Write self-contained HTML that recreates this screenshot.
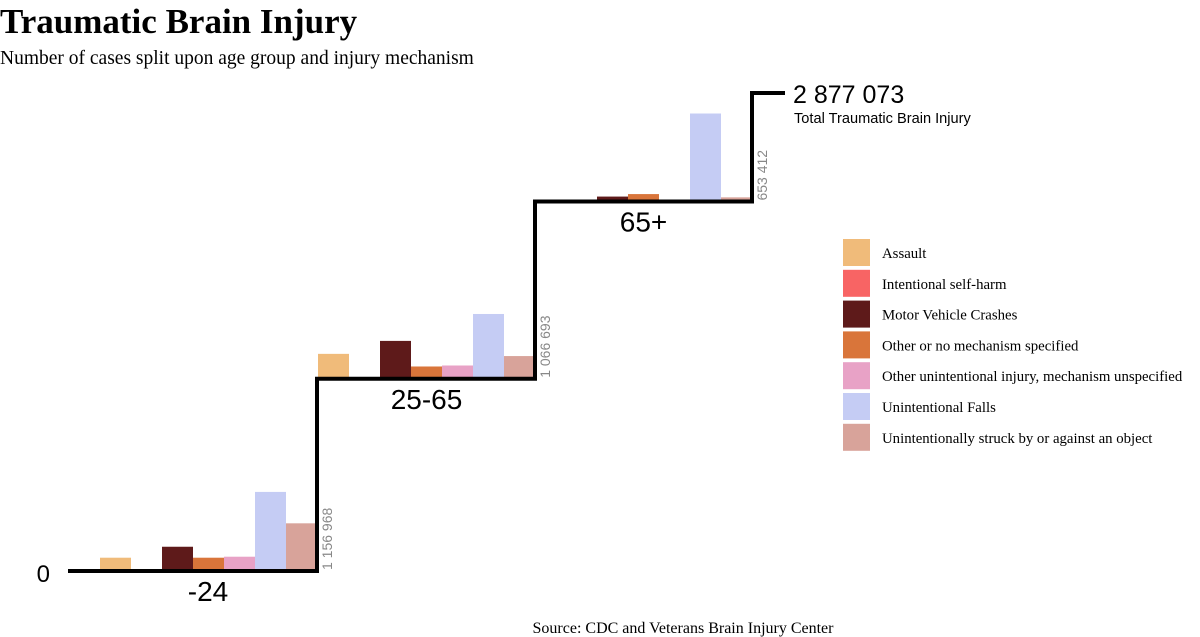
<!DOCTYPE html>
<html><head><meta charset="utf-8"><style>
body{margin:0;background:#fff;width:1200px;height:637px;overflow:hidden}
svg{display:block}
.serif{font-family:"Liberation Serif",serif}
.sans{font-family:"Liberation Sans",sans-serif}
</style></head><body>
<svg id="chart" width="1200" height="637">
<text x="0" y="33" class="serif" font-size="35" font-weight="bold">Traumatic Brain Injury</text>
<text x="0" y="64" class="serif" font-size="19.5">Number of cases split upon age group and injury mechanism</text>
<text x="683" y="633" text-anchor="middle" class="serif" font-size="16">Source: CDC and Veterans Brain Injury Center</text>
<text x="50" y="582" text-anchor="end" class="sans" font-size="24">0</text>
<g id="bars"></g><g id="steps"></g><g id="legend"></g>
</svg>
<script>
const groups=["-24","25-65","65+"];
const mechanisms=["Assault","Intentional self-harm","Motor Vehicle Crashes","Other or no mechanism specified","Other unintentional injury, mechanism unspecified","Unintentional Falls","Unintentionally struck by or against an object"];
const colors=["#f0bb7a","#f86464","#5e1a1a","#d9753a","#e8a2c6","#c5ccf4","#d8a39a"];
const young=[80000,2000,146000,80000,86000,476000,286968];
const adult=[150000,8000,228000,74000,80000,390000,136693];
const senior=[2000,3000,30000,45000,8000,530000,25412];
const groupTotals=[1156968,1066693,653412];
const totalLabel="2 877 073";
const series=[young,adult,senior];
const NS="http://www.w3.org/2000/svg";
const base=571, k=478/2877073, barW=31;
const groupX=[100,318,535];
const y=v=>v*k;
function mk(t,a,p){const e=document.createElementNS(NS,t);for(const n in a)e.setAttribute(n,a[n]);p.appendChild(e);return e;}
const bars=document.getElementById('bars'),steps=document.getElementById('steps');
let cum=0;
let path="M68,"+base;
groups.forEach((g,gi)=>{
  const b0=base-y(cum);
  series[gi].forEach((v,mi)=>{
    const r=mk('rect',{x:groupX[gi]+mi*barW,y:b0-y(v),width:barW,height:y(v),fill:colors[mi]},bars);
    
    
  });
  const xEnd=groupX[gi]+7*barW;
  const lbl=mk('text',{x:gi===0?208:(groupX[gi]+xEnd)/2,y:b0+30,'text-anchor':'middle','class':'sans','font-size':28},steps);
  lbl.textContent=g;
  
  
  const vt=mk('text',{transform:`translate(${xEnd+15},${b0-1}) rotate(-90)`,'class':'sans','font-size':14,fill:'#888'},steps);
  vt.textContent=groupTotals[gi].toLocaleString('en-US').replace(/,/g,' ');
  
  
  cum+=groupTotals[gi];
  path+=` L${xEnd},${b0} L${xEnd},${base-y(cum)}`;
});
path+=` L785,${base-y(cum)}`;
const line=mk('path',{d:path,fill:'none',stroke:'#000','stroke-width':4},steps);


const tt=mk('text',{x:793,y:base-y(cum)+10,'class':'sans','font-size':25},steps);
tt.textContent=totalLabel;


const ts=mk('text',{x:794,y:base-y(cum)+30,'class':'sans','font-size':14.6},steps);
ts.textContent="Total Traumatic Brain Injury";


const lg=document.getElementById('legend');


mechanisms.forEach((m,i)=>{
  const g=mk('g',{},lg);
  
  
  mk('rect',{x:843,y:239+i*30.8,width:27,height:27,fill:colors[i]},g);
  const t=mk('text',{x:882,y:258+i*30.8,'class':'serif','font-size':14.8},g);
  t.textContent=m;
});
</script>
</body></html>
